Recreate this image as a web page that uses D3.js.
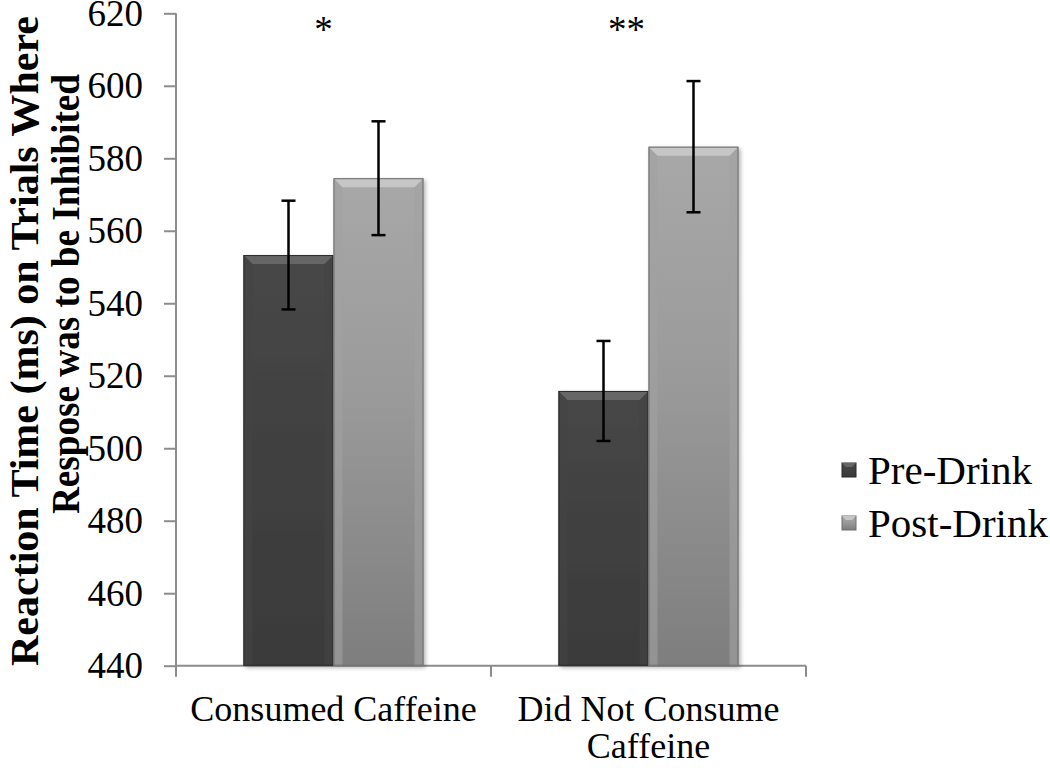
<!DOCTYPE html>
<html><head><meta charset="utf-8">
<script src="https://cdn.jsdelivr.net/npm/d3@7"></script>
<style>body{margin:0;background:#fff}svg{display:block}text{font-family:"Liberation Serif","Times New Roman",serif}</style>
</head><body><svg id="c" width="1050" height="768"></svg>
<script>
const categories = ["Consumed Caffeine", "Did Not Consume Caffeine"];
const categoryLines = [["Consumed Caffeine"], ["Did Not Consume", "Caffeine"]];
const series = ["Pre-Drink", "Post-Drink"];
const preDrink = [553.3, 515.8];
const postDrink = [574.5, 583.2];
const preErr = [15.0, 13.8];
const postErr = [15.7, 18.1];
const significance = ["*", "**"];
const yTicks = [440, 460, 480, 500, 520, 540, 560, 580, 600, 620];
const yTitle = ["Reaction Time (ms) on Trials Where", "Respose was to be Inhibited"];

const svg = d3.select("#c");
const y = d3.scaleLinear().domain([440, 620]).range([665.7, 13.3]);
const x0 = d3.scaleBand().domain(categories).range([176, 806]).paddingInner(0).paddingOuter(0);
const x1 = d3.scaleBand().domain(series).range([0, x0.bandwidth()]).paddingInner(0).paddingOuter(0.75);

const defs = svg.append("defs");
function grad(id, stops){
  const g = defs.append("linearGradient").attr("id", id).attr("x1",0).attr("y1",0).attr("x2",0).attr("y2",1);
  stops.forEach(s => g.append("stop").attr("offset", s[0]).attr("stop-color", s[1]));
}
grad("gPre", [[0,"#474747"],[1,"#3a3a3a"]]);
grad("gPost", [[0,"#a8a8a8"],[0.45,"#9a9a9a"],[1,"#7e7e7e"]]);
const sh = defs.append("filter").attr("id","sh").attr("x","-20%").attr("y","-5%").attr("width","140%").attr("height","115%");
sh.append("feDropShadow").attr("dx",2).attr("dy",2).attr("stdDeviation",2).attr("flood-color","#000").attr("flood-opacity",0.3);

const styles = {
  "Pre-Drink": {fill:"url(#gPre)", top:"#666", side:"#454545", edge:"#2a2a2a"},
  "Post-Drink": {fill:"url(#gPost)", top:"#c6c6c6", side:"#a2a2a2", edge:"#6e6e6e"}
};

// axes
const axisColor = "#8c8c8c";
const yAxis = svg.append("g").attr("transform","translate(176,0)")
  .call(d3.axisLeft(y).tickValues(yTicks).tickSize(12).tickPadding(21).tickFormat(d3.format("d")));
yAxis.select(".domain").attr("stroke", axisColor).attr("stroke-width",2).attr("d", `M0,${y(620)}V${y(440)}`);
yAxis.selectAll(".tick line").attr("stroke", axisColor).attr("stroke-width",2);
yAxis.selectAll(".tick text").attr("font-size",37).attr("fill","#000").attr("font-family","Liberation Serif");

const xg = svg.append("g");
xg.append("line").attr("x1",176).attr("x2",806).attr("y1",y(440)).attr("y2",y(440)).attr("stroke",axisColor).attr("stroke-width",2);
const xTickPos = [x0.range()[0], ...categories.map(c => x0(c) + x0.bandwidth())];
xg.selectAll(".xt").data(xTickPos).join("line").attr("x1",d=>d).attr("x2",d=>d)
  .attr("y1",y(440)).attr("y2",y(440)+11).attr("stroke",axisColor).attr("stroke-width",2);

// bars
const data = [];
categories.forEach((c,i) => {
  data.push({c, s:"Pre-Drink", v:preDrink[i], e:preErr[i]});
  data.push({c, s:"Post-Drink", v:postDrink[i], e:postErr[i]});
});
const bw = x1.bandwidth();
const bev = 9;
const bars = svg.append("g").selectAll("g").data(data).join("g")
  .attr("transform", d => `translate(${x0(d.c) + x1(d.s)},0)`);
bars.append("rect").attr("x",0).attr("width",bw).attr("y",d=>y(d.v)).attr("height",d=>y(440)-y(d.v))
  .attr("fill",d=>styles[d.s].fill).attr("filter","url(#sh)");
bars.append("path").attr("d", d => { const t=y(d.v), b=y(440);
  return `M0,${t}L${bev},${t+bev}L${bev},${b}L0,${b}Z M${bw},${t}L${bw-bev},${t+bev}L${bw-bev},${b}L${bw},${b}Z`; })
  .attr("fill", d=>styles[d.s].side).attr("opacity",0.6);
bars.append("path").attr("d", d => { const t=y(d.v);
  return `M0,${t}L${bw},${t}L${bw-bev},${t+bev}L${bev},${t+bev}Z`; })
  .attr("fill", d=>styles[d.s].top);
bars.append("rect").attr("x",0.5).attr("width",bw-1).attr("y",d=>y(d.v)+0.5).attr("height",d=>y(440)-y(d.v)-1)
  .attr("fill","none").attr("stroke",d=>styles[d.s].edge).attr("stroke-width",1);

// error bars
const eb = bars.append("g").attr("stroke","#000").attr("stroke-width",2.5);
eb.append("line").attr("x1",bw/2).attr("x2",bw/2).attr("y1",d=>y(d.v+d.e)).attr("y2",d=>y(d.v-d.e));
eb.append("line").attr("x1",bw/2-7).attr("x2",bw/2+7).attr("y1",d=>y(d.v+d.e)).attr("y2",d=>y(d.v+d.e));
eb.append("line").attr("x1",bw/2-7).attr("x2",bw/2+7).attr("y1",d=>y(d.v-d.e)).attr("y2",d=>y(d.v-d.e));

// significance
svg.append("g").selectAll("text").data(categories).join("text")
  .attr("x",(c,i)=>x0(c)+x0.bandwidth()/2 - (i===0?10:22)).attr("y",42)
  .attr("text-anchor","middle").attr("font-size",37).text((c,i)=>significance[i]);

// category labels
const cl = svg.append("g").selectAll("text").data(categories).join("text")
  .attr("x",c=>x0(c)+x0.bandwidth()/2).attr("y",721).attr("text-anchor","middle").attr("font-size",36);
cl.selectAll("tspan").data((c,i)=>categoryLines[i]).join("tspan")
  .attr("x",function(){return this.parentNode.getAttribute("x");}).attr("dy",(d,j)=>j===0?0:37).text(d=>d);

// y title
const yTitlePos = [{cy:341, base:38, len:650}, {cy:294, base:79, len:440}];
svg.append("g").selectAll("text").data(yTitle).join("text")
  .attr("transform",(d,i)=>`translate(${yTitlePos[i].base},${yTitlePos[i].cy}) rotate(-90)`)
  .attr("text-anchor","middle").attr("font-size",39).attr("font-weight","bold")
  .attr("textLength",(d,i)=>yTitlePos[i].len).attr("lengthAdjust","spacingAndGlyphs").text(d=>d);

// legend
const lg = svg.append("g").selectAll("g").data(series).join("g")
  .attr("transform",(d,i)=>`translate(842,${463+i*53})`);
lg.append("rect").attr("width",14).attr("height",14).attr("fill",d=>styles[d].fill).attr("stroke",d=>styles[d].edge);
lg.append("path").attr("d","M0,0L14,0L10,4L4,4Z").attr("fill",d=>styles[d].top);
lg.append("text").attr("x",26).attr("y",21).attr("font-size",41).text(d=>d);
</script></body></html>
